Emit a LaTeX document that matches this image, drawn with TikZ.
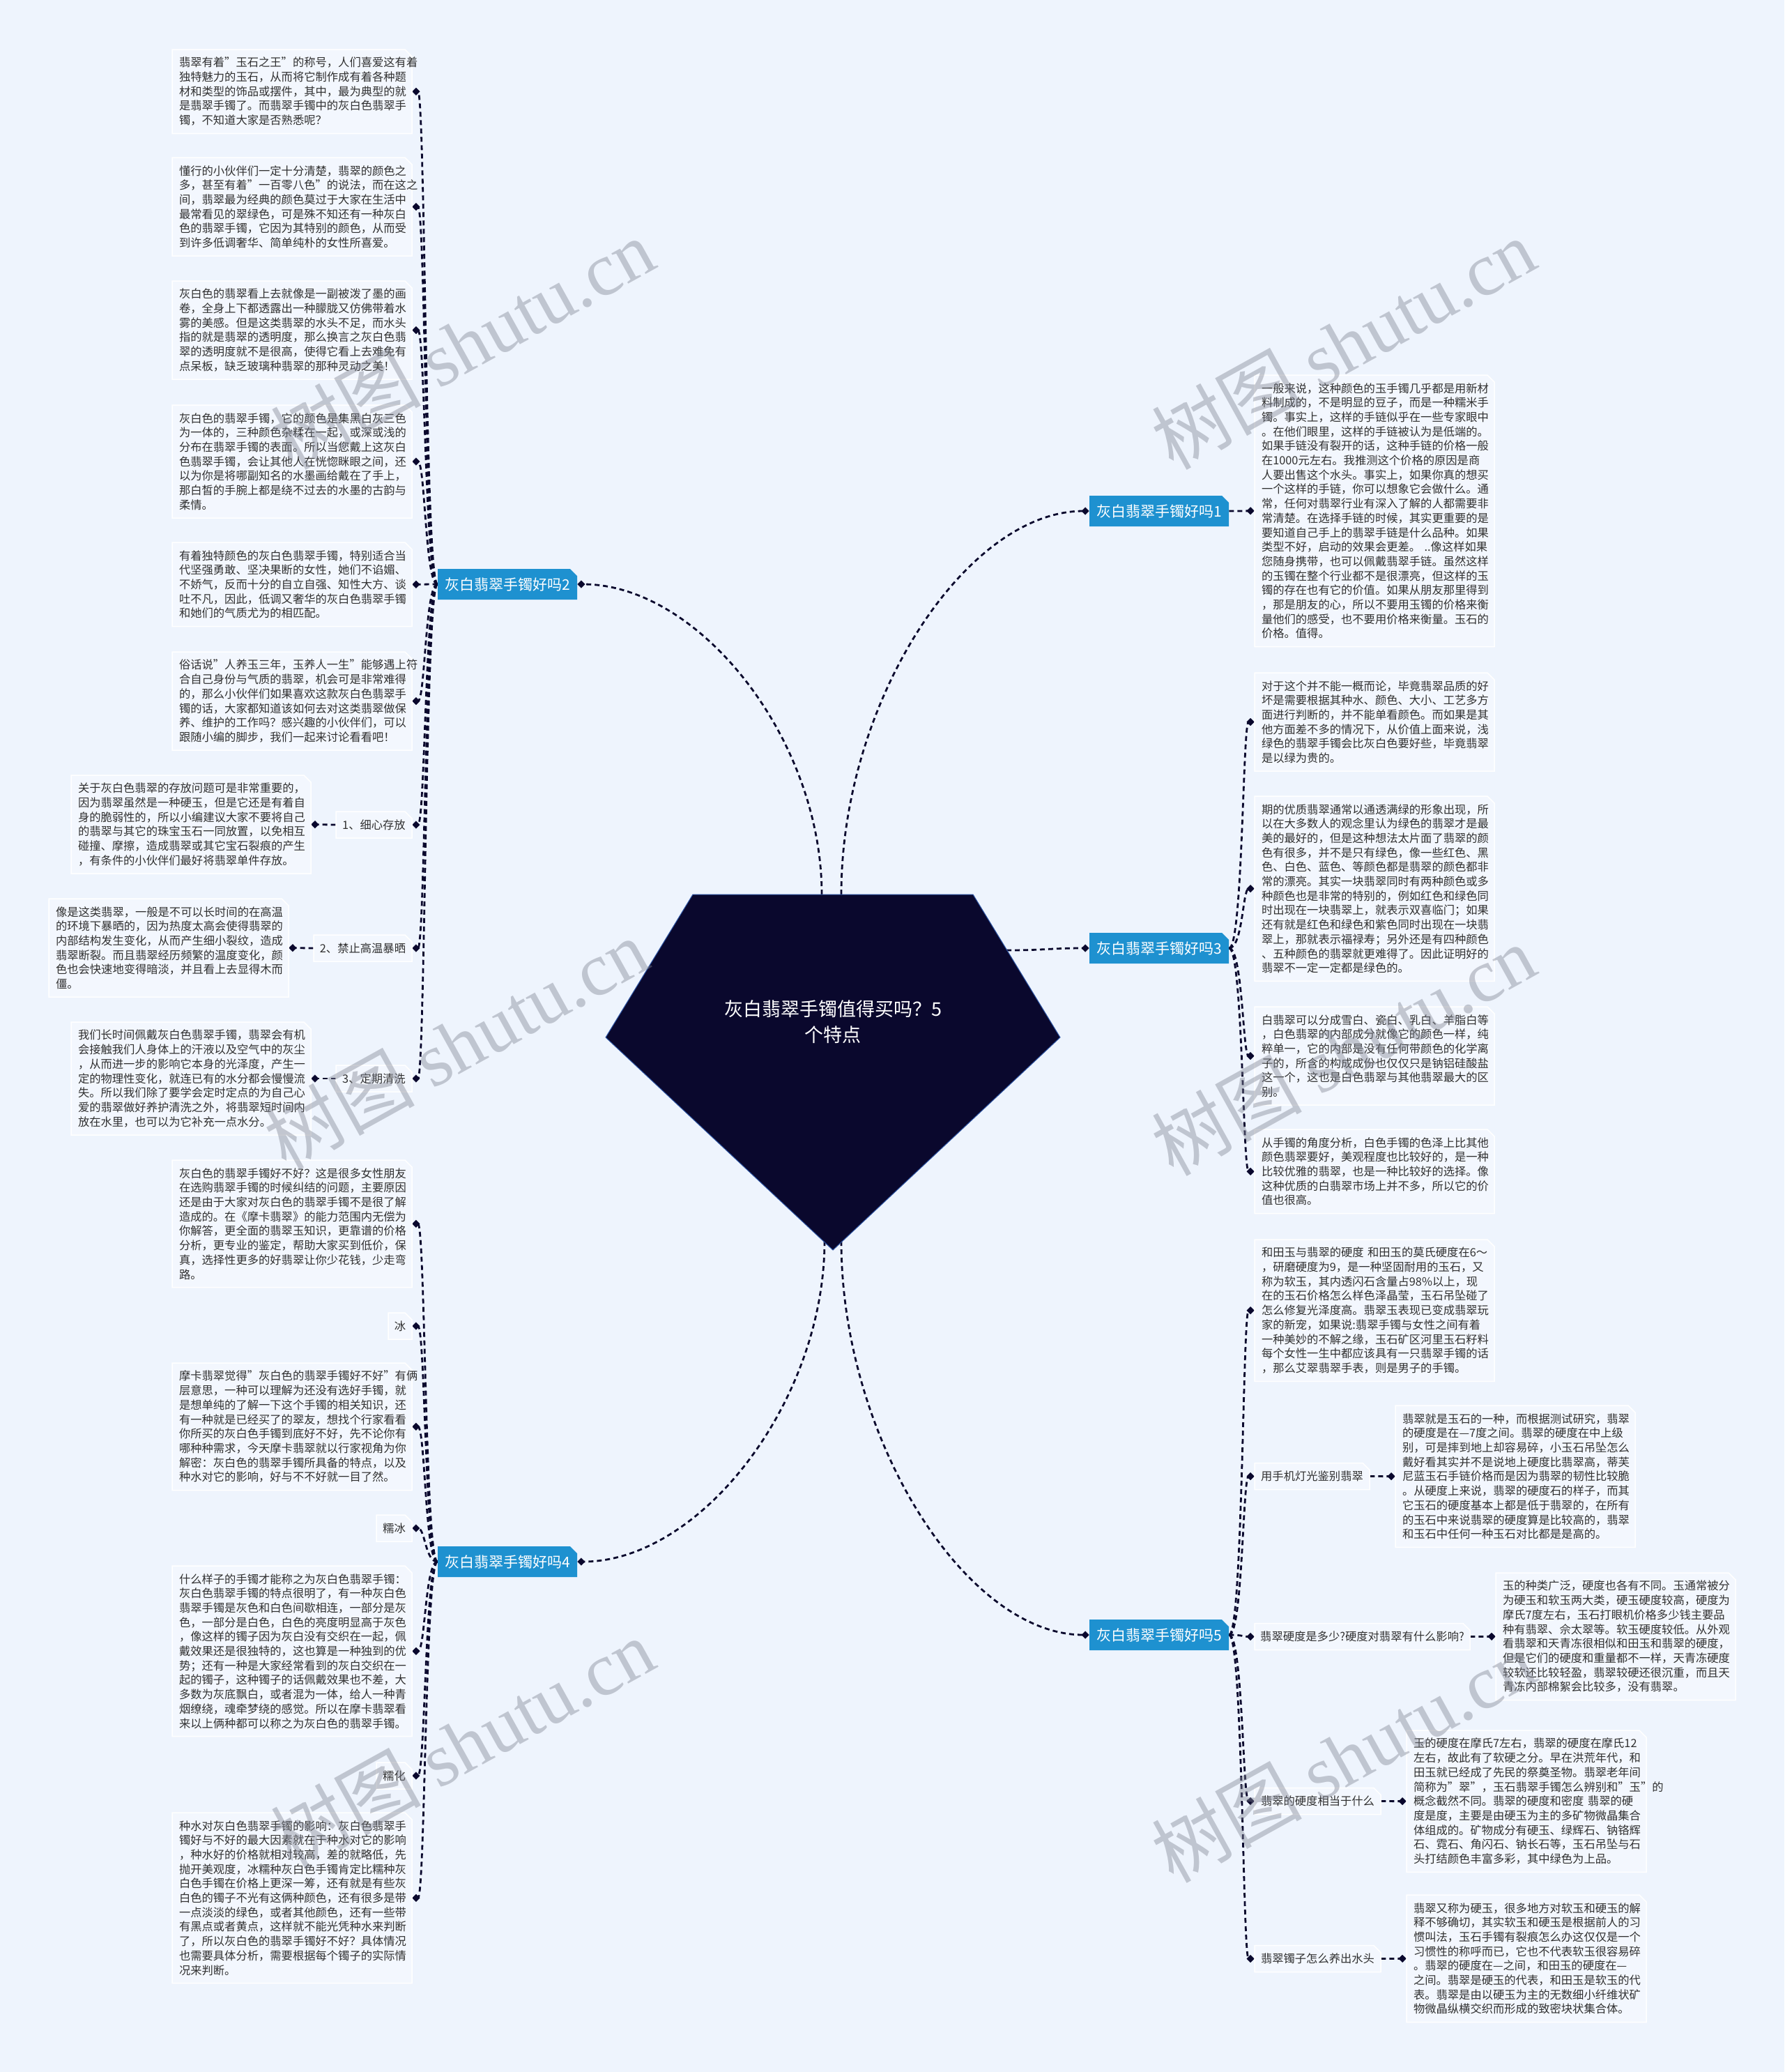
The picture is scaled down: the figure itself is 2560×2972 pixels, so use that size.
\documentclass[tikz,border=0pt]{standalone}
\usepackage{fontspec}
\setmainfont{Noto Sans CJK SC}
\newfontfamily\wmlatin{Liberation Serif}
\newfontfamily\wmcjk{Noto Sans CJK SC}
\usetikzlibrary{arrows.meta,calc}
\definecolor{bg}{RGB}{238,244,253}
\definecolor{boxfill}{RGB}{243,247,254}
\definecolor{navy}{RGB}{10,8,45}
\definecolor{branchblue}{RGB}{30,145,208}
\definecolor{txtgrey}{RGB}{48,48,48}
\definecolor{wmgrey}{RGB}{128,132,146}
\definecolor{pentline}{RGB}{45,85,165}
\pgfdeclarelayer{bglayer}
\pgfdeclarelayer{back}
\pgfdeclarelayer{front}
\pgfsetlayers{bglayer,back,main,front}
% #1 name, #2 style, #3 x, #4 y, #5 w, #6 h, #7 text
\newcommand\mmbox[7]{%
  \path[#2shape] (#3,#4) -- (#3+#5-10,#4) -- (#3+#5,#4+10) -- (#3+#5,#4+#6) -- (#3,#4+#6) -- cycle;
  \node[#2, minimum width={#5*0.5pt}, minimum height={#6*0.5pt}] (#1) at (#3+#5/2,#4+#6/2) {#7};
}
\tikzset{
  txtshape/.style={fill=boxfill, draw=white, line width=0.75pt},
  txt/.style={inner sep=0pt, text width=162pt, align=left, font=\fontsize{8.15pt}{10.35pt}\selectfont, text=txtgrey},
  labshape/.style={fill=boxfill, draw=white, line width=0.75pt},
  lab/.style={inner sep=0pt, font=\fontsize{8.15pt}{10.35pt}\selectfont, text=txtgrey},
  brshape/.style={fill=branchblue},
  br/.style={inner sep=0pt, font=\fontsize{10.5pt}{12pt}\selectfont, text=white},
  pent/.style={fill=navy, draw=pentline, line width=0.5pt},
  roottxt/.style={inner sep=0pt, align=center, text=white, font=\fontsize{13.5pt}{18.5pt}\selectfont},
  conn/.style={draw=navy, line width=1.4pt, dash pattern=on 3.5pt off 2.5pt, -{Diamond[length=5.5pt,width=5.5pt,line width=0.1pt]}},
  wm/.style={text=wmgrey, opacity=0.42, rotate=29, inner sep=0pt, font=\fontsize{54pt}{60pt}\selectfont}
}
\begin{document}
\begin{tikzpicture}[x=0.5pt,y=-0.5pt]
\begin{pgfonlayer}{bglayer}
\fill[bg] (0,0) rectangle (2560,2972);
\end{pgfonlayer}
\useasboundingbox (0,0) rectangle (2560,2972);

% ---------- root ----------
\coordinate (pa) at (994,1283);
\coordinate (pb) at (1396,1283);
\coordinate (pc) at (1521,1488);
\coordinate (pd) at (1195,1793);
\coordinate (pe) at (869,1488);
\draw[pent] (pa) -- (pb) -- (pc) -- (pd) -- (pe) -- cycle;
\node[roottxt] (root) at (1195,1466) {灰白翡翠手镯值得买吗？5\\个特点};

% ---------- branches ----------
\mmbox{b1}{br}{1563}{711}{200}{44}{灰白翡翠手镯好吗1}
\mmbox{b2}{br}{628}{816}{200}{44}{灰白翡翠手镯好吗2}
\mmbox{b3}{br}{1563}{1338}{200}{44}{灰白翡翠手镯好吗3}
\mmbox{b4}{br}{628}{2218}{200}{44}{灰白翡翠手镯好吗4}
\mmbox{b5}{br}{1563}{2323}{200}{44}{灰白翡翠手镯好吗5}

% ---------- branch 1 ----------
\mmbox{r11}{txt}{1800}{538}{344}{389.6}{一般来说，这种颜色的玉手镯几乎都是用新材\\料制成的，不是明显的豆子，而是一种糯米手\\镯。事实上，这样的手链似乎在一些专家眼中\\。在他们眼里，这样的手链被认为是低端的。\\如果手链没有裂开的话，这种手链的价格一般\\在1000元左右。我推测这个价格的原因是商\\人要出售这个水头。事实上，如果你真的想买\\一个这样的手链，你可以想象它会做什么。通\\常，任何对翡翠行业有深入了解的人都需要非\\常清楚。在选择手链的时候，其实更重要的是\\要知道自己手上的翡翠手链是什么品种。如果\\类型不好，启动的效果会更差。~..像这样如果\\您随身携带，也可以佩戴翡翠手链。虽然这样\\的玉镯在整个行业都不是很漂亮，但这样的玉\\镯的存在也有它的价值。如果从朋友那里得到\\，那是朋友的心，所以不要用玉镯的价格来衡\\量他们的感受，也不要用价格来衡量。玉石的\\价格。值得。}

% ---------- branch 2 ----------
\mmbox{b21}{txt}{247}{71}{344}{120.5}{翡翠有着"玉石之王"的称号，人们喜爱这有着\\独特魅力的玉石，从而将它制作成有着各种题\\材和类型的饰品或摆件，其中，最为典型的就\\是翡翠手镯了。而翡翠手镯中的灰白色翡翠手\\镯，不知道大家是否熟悉呢？}
\mmbox{b22}{txt}{247}{226}{344}{141.2}{懂行的小伙伴们一定十分清楚，翡翠的颜色之\\多，甚至有着"一百零八色"的说法，而在这之\\间，翡翠最为经典的颜色莫过于大家在生活中\\最常看见的翠绿色，可是殊不知还有一种灰白\\色的翡翠手镯，它因为其特别的颜色，从而受\\到许多低调奢华、简单纯朴的女性所喜爱。}
\mmbox{b23}{txt}{247}{403}{344}{141.2}{灰白色的翡翠看上去就像是一副被泼了墨的画\\卷，全身上下都透露出一种朦胧又仿佛带着水\\雾的美感。但是这类翡翠的水头不足，而水头\\指的就是翡翠的透明度，那么换言之灰白色翡\\翠的透明度就不是很高，使得它看上去难免有\\点呆板，缺乏玻璃种翡翠的那种灵动之美！}
\mmbox{b24}{txt}{247}{581}{344}{162}{灰白色的翡翠手镯，它的颜色是集黑白灰三色\\为一体的，三种颜色杂糅在一起，或深或浅的\\分布在翡翠手镯的表面。所以当您戴上这灰白\\色翡翠手镯，会让其他人在恍惚眯眼之间，还\\以为你是将哪副知名的水墨画给戴在了手上，\\那白皙的手腕上都是绕不过去的水墨的古韵与\\柔情。}
\mmbox{b25}{txt}{247}{778}{344}{120.5}{有着独特颜色的灰白色翡翠手镯，特别适合当\\代坚强勇敢、坚决果断的女性，她们不谄媚、\\不娇气，反而十分的自立自强、知性大方、谈\\吐不凡，因此，低调又奢华的灰白色翡翠手镯\\和她们的气质尤为的相匹配。}
\mmbox{b26}{txt}{247}{935}{344}{141.2}{俗话说"人养玉三年，玉养人一生"能够遇上符\\合自己身份与气质的翡翠，机会可是非常难得\\的，那么小伙伴们如果喜欢这款灰白色翡翠手\\镯的话，大家都知道该如何去对这类翡翠做保\\养、维护的工作吗？感兴趣的小伙伴们，可以\\跟随小编的脚步，我们一起来讨论看看吧！}
\mmbox{l27}{lab}{482}{1164}{109}{38}{1、细心存放}
\mmbox{c27}{txt}{102}{1112}{344}{141.2}{关于灰白色翡翠的存放问题可是非常重要的，\\因为翡翠虽然是一种硬玉，但是它还是有着自\\身的脆弱性的，所以小编建议大家不要将自己\\的翡翠与其它的珠宝玉石一同放置，以免相互\\碰撞、摩擦，造成翡翠或其它宝石裂痕的产生\\，有条件的小伙伴们最好将翡翠单件存放。}
\mmbox{l28}{lab}{450}{1341}{141}{38}{2、禁止高温暴晒}
\mmbox{c28}{txt}{70}{1289}{344}{141.2}{像是这类翡翠，一般是不可以长时间的在高温\\的环境下暴晒的，因为热度太高会使得翡翠的\\内部结构发生变化，从而产生细小裂纹，造成\\翡翠断裂。而且翡翠经历频繁的温度变化，颜\\色也会快速地变得暗淡，并且看上去显得木而\\僵。}
\mmbox{l29}{lab}{482}{1528}{109}{38}{3、定期清洗}
\mmbox{c29}{txt}{102}{1466}{344}{162}{我们长时间佩戴灰白色翡翠手镯，翡翠会有机\\会接触我们人身体上的汗液以及空气中的灰尘\\，从而进一步的影响它本身的光泽度，产生一\\定的物理性变化，就连已有的水分都会慢慢流\\失。所以我们除了要学会定时定点的为自己心\\爱的翡翠做好养护清洗之外，将翡翠短时间内\\放在水里，也可以为它补充一点水分。}

% ---------- branch 3 ----------
\mmbox{r31}{txt}{1800}{965}{344}{141.2}{对于这个并不能一概而论，毕竟翡翠品质的好\\坏是需要根据其种水、颜色、大小、工艺多方\\面进行判断的，并不能单看颜色。而如果是其\\他方面差不多的情况下，从价值上面来说，浅\\绿色的翡翠手镯会比灰白色要好些，毕竟翡翠\\是以绿为贵的。}
\mmbox{r32}{txt}{1800}{1142}{344}{265.4}{期的优质翡翠通常以通透满绿的形象出现，所\\以在大多数人的观念里认为绿色的翡翠才是最\\美的最好的，但是这种想法太片面了翡翠的颜\\色有很多，并不是只有绿色，像一些红色、黑\\色、白色、蓝色、等颜色都是翡翠的颜色都非\\常的漂亮。其实一块翡翠同时有两种颜色或多\\种颜色也是非常的特别的，例如红色和绿色同\\时出现在一块翡翠上，就表示双喜临门；如果\\还有就是红色和绿色和紫色同时出现在一块翡\\翠上，那就表示福禄寿；另外还是有四种颜色\\、五种颜色的翡翠就更难得了。因此证明好的\\翡翠不一定一定都是绿色的。}
\mmbox{r33}{txt}{1800}{1444}{344}{141.2}{白翡翠可以分成雪白、瓷白、乳白、羊脂白等\\，白色翡翠的内部成分就像它的颜色一样，纯\\粹单一，它的内部是没有任何带颜色的化学离\\子的，所含的构成成份也仅仅只是钠铝硅酸盐\\这一个，这也是白色翡翠与其他翡翠最大的区\\别。}
\mmbox{r34}{txt}{1800}{1620}{344}{120.5}{从手镯的角度分析，白色手镯的色泽上比其他\\颜色翡翠要好，美观程度也比较好的，是一种\\比较优雅的翡翠，也是一种比较好的选择。像\\这种优质的白翡翠市场上并不多，所以它的价\\值也很高。}

% ---------- branch 4 ----------
\mmbox{b41}{txt}{247}{1664}{344}{182.6}{灰白色的翡翠手镯好不好？这是很多女性朋友\\在选购翡翠手镯的时候纠结的问题，主要原因\\还是由于大家对灰白色的翡翠手镯不是很了解\\造成的。在《摩卡翡翠》的能力范围内无偿为\\你解答，更全面的翡翠玉知识，更靠谱的价格\\分析，更专业的鉴定，帮助大家买到低价，保\\真，选择性更多的好翡翠让你少花钱，少走弯\\路。}
\mmbox{l42}{lab}{557}{1883}{34}{38}{冰}
\mmbox{b43}{txt}{247}{1955}{344}{182.6}{摩卡翡翠觉得"灰白色的翡翠手镯好不好"有俩\\层意思，一种可以理解为还没有选好手镯，就\\是想单纯的了解一下这个手镯的相关知识，还\\有一种就是已经买了的翠友，想找个行家看看\\你所买的灰白色手镯到底好不好，先不论你有\\哪种种需求，今天摩卡翡翠就以行家视角为你\\解密：灰白色的翡翠手镯所具备的特点，以及\\种水对它的影响，好与不不好就一目了然。}
\mmbox{l44}{lab}{540}{2173}{51}{38}{糯冰}
\mmbox{b45}{txt}{247}{2246}{344}{244.7}{什么样子的手镯才能称之为灰白色翡翠手镯：\\灰白色翡翠手镯的特点很明了，有一种灰白色\\翡翠手镯是灰色和白色间歇相连，一部分是灰\\色，一部分是白色，白色的亮度明显高于灰色\\，像这样的镯子因为灰白没有交织在一起，佩\\戴效果还是很独特的，这也算是一种独到的优\\势；还有一种是大家经常看到的灰白交织在一\\起的镯子，这种镯子的话佩戴效果也不差，大\\多数为灰底飘白，或者混为一体，给人一种青\\烟缭绕，魂牵梦绕的感觉。所以在摩卡翡翠看\\来以上俩种都可以称之为灰白色的翡翠手镯。}
\mmbox{l46}{lab}{540}{2528}{51}{38}{糯化}
\mmbox{b47}{txt}{247}{2600}{344}{244.7}{种水对灰白色翡翠手镯的影响：灰白色翡翠手\\镯好与不好的最大因素就在于种水对它的影响\\，种水好的价格就相对较高，差的就略低，先\\抛开美观度，冰糯种灰白色手镯肯定比糯种灰\\白色手镯在价格上更深一筹，还有就是有些灰\\白色的镯子不光有这俩种颜色，还有很多是带\\一点淡淡的绿色，或者其他颜色，还有一些带\\有黑点或者黄点，这样就不能光凭种水来判断\\了，所以灰白色的翡翠手镯好不好？具体情况\\也需要具体分析，需要根据每个镯子的实际情\\况来判断。}

% ---------- branch 5 ----------
\mmbox{r51}{txt}{1800}{1778}{344}{203.3}{和田玉与翡翠的硬度~和田玉的莫氏硬度在6～\\，研磨硬度为9，是一种坚固耐用的玉石，又\\称为软玉，其内透闪石含量占98\%以上，现\\在的玉石价格怎么样色泽晶莹，玉石吊坠碰了\\怎么修复光泽度高。翡翠玉表现已变成翡翠玩\\家的新宠，如果说:翡翠手镯与女性之间有着\\一种美妙的不解之缘，玉石矿区河里玉石籽料\\每个女性一生中都应该具有一只翡翠手镯的话\\，那么艾翠翡翠手表，则是男子的手镯。}
\mmbox{l52}{lab}{1800}{2098.5}{165}{38}{用手机灯光鉴别翡翠}
\mmbox{c52}{txt}{2002}{2016}{344}{203.3}{翡翠就是玉石的一种，而根据测试研究，翡翠\\的硬度是在—7度之间。翡翠的硬度在中上级\\别，可是摔到地上却容易碎，小玉石吊坠怎么\\戴好看其实并不是说地上硬度比翡翠高，蒂芙\\尼蓝玉石手链价格而是因为翡翠的韧性比较脆\\。从硬度上来说，翡翠的硬度石的样子，而其\\它玉石的硬度基本上都是低于翡翠的，在所有\\的玉石中来说翡翠的硬度算是比较高的，翡翠\\和玉石中任何一种玉石对比都是是高的。}
\mmbox{l53}{lab}{1800}{2328.5}{309}{38}{翡翠硬度是多少?硬度对翡翠有什么影响?}
\mmbox{c53}{txt}{2146}{2256}{344}{182.6}{玉的种类广泛，硬度也各有不同。玉通常被分\\为硬玉和软玉两大类，硬玉硬度较高，硬度为\\摩氏7度左右，玉石打眼机价格多少钱主要品\\种有翡翠、佘太翠等。软玉硬度较低。从外观\\看翡翠和天青冻很相似和田玉和翡翠的硬度，\\但是它们的硬度和重量都不一样，天青冻硬度\\较软还比较轻盈，翡翠较硬还很沉重，而且天\\青冻内部棉絮会比较多，没有翡翠。}
\mmbox{l54}{lab}{1800}{2564.5}{181}{38}{翡翠的硬度相当于什么}
\mmbox{c54}{txt}{2018}{2482}{344}{203.3}{玉的硬度在摩氏7左右，翡翠的硬度在摩氏12\\左右，故此有了软硬之分。早在洪荒年代，和\\田玉就已经成了先民的祭奠圣物。翡翠老年间\\简称为"翠"，玉石翡翠手镯怎么辨别和"玉"的\\概念截然不同。翡翠的硬度和密度~翡翠的硬\\度是度，主要是由硬玉为主的多矿物微晶集合\\体组成的。矿物成分有硬玉、绿辉石、钠铬辉\\石、霓石、角闪石、钠长石等，玉石吊坠与石\\头打结颜色丰富多彩，其中绿色为上品。}
\mmbox{l55}{lab}{1800}{2790.5}{181}{38}{翡翠镯子怎么养出水头}
\mmbox{c55}{txt}{2018}{2718}{344}{182.6}{翡翠又称为硬玉，很多地方对软玉和硬玉的解\\释不够确切，其实软玉和硬玉是根据前人的习\\惯叫法，玉石手镯有裂痕怎么办这仅仅是一个\\习惯性的称呼而已，它也不代表软玉很容易碎\\。翡翠的硬度在—之间，和田玉的硬度在—\\之间。翡翠是硬玉的代表，和田玉是软玉的代\\表。翡翠是由以硬玉为主的无数细小纤维状矿\\物微晶纵横交织而形成的致密块状集合体。}

% ---------- connectors ----------
\coordinate (s1) at (1207,1283);
\coordinate (s2) at (1179,1283);
\coordinate (s3) at (1444,1363);
\coordinate (s4) at (1183,1780);
\coordinate (s5) at (1207,1780);
\coordinate (tl) at (610,0);
\coordinate (tr) at (1783,0);
\begin{pgfonlayer}{back}
\draw[conn] (s1) .. controls (1207,1008) and (1385,733) .. (b1.west);
\draw[conn] (s2) .. controls (1179,1060) and (1003,838) .. (b2.east);
\draw[conn] (s3) .. controls (1500,1363) and (1505,1360) .. (b3.west);
\draw[conn] (s4) .. controls (1183,2010) and (1005,2240) .. (b4.east);
\draw[conn] (s5) .. controls (1207,2062) and (1385,2345) .. (b5.west);

\draw[conn] (b1.east) -- (r11.west);

\foreach \c in {b21,b22,b23,b24,b25,b26,l27,l28,l29}
  \draw[conn] (b2.west) .. controls (tl |- b2.west) and (tl |- \c.east) .. (\c.east);
\draw[conn] (l27.west) -- (c27.east);
\draw[conn] (l28.west) -- (c28.east);
\draw[conn] (l29.west) -- (c29.east);

\foreach \c in {r31,r32,r33,r34}
  \draw[conn] (b3.east) .. controls (tr |- b3.east) and (tr |- \c.west) .. (\c.west);

\foreach \c in {b41,l42,b43,l44,b45,l46,b47}
  \draw[conn] (b4.west) .. controls (tl |- b4.west) and (tl |- \c.east) .. (\c.east);

\foreach \c in {r51,l52,l53,l54,l55}
  \draw[conn] (b5.east) .. controls (tr |- b5.east) and (tr |- \c.west) .. (\c.west);
\draw[conn] (l52.east) -- (c52.west);
\draw[conn] (l53.east) -- (c53.west);
\draw[conn] (l54.east) -- (c54.west);
\draw[conn] (l55.east) -- (c55.west);
\end{pgfonlayer}

% ---------- watermarks ----------
\begin{pgfonlayer}{front}
\node[wm] (wm1) at (663,493) {\wmcjk 树图 \wmlatin shutu.cn};
\node[wm] (wm2) at (1927,493) {\wmcjk 树图 \wmlatin shutu.cn};
\node[wm] (wm3) at (654,1497) {\wmcjk 树图 \wmlatin shutu.cn};
\node[wm] (wm4) at (1927,1506) {\wmcjk 树图 \wmlatin shutu.cn};
\node[wm] (wm5) at (663,2501) {\wmcjk 树图 \wmlatin shutu.cn};
\node[wm] (wm6) at (1927,2520) {\wmcjk 树图 \wmlatin shutu.cn};
\end{pgfonlayer}
\end{tikzpicture}
\end{document}
